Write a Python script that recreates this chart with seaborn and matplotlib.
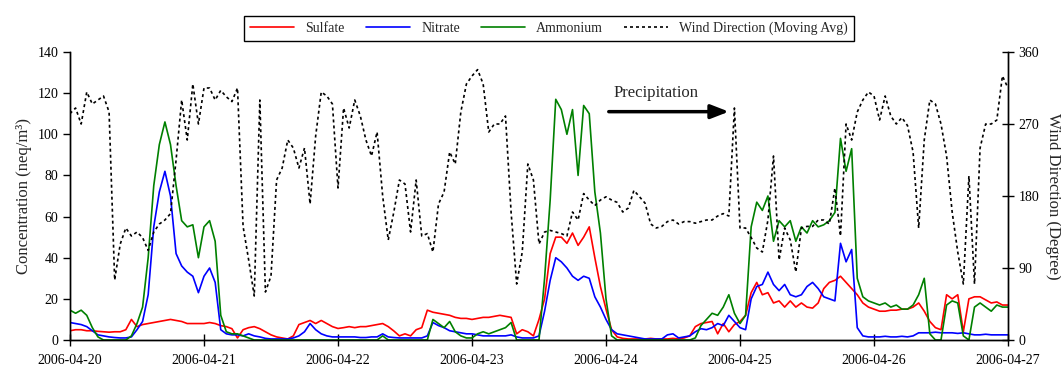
import pandas as pd
import seaborn as sns
import matplotlib.pyplot as plt
import matplotlib.dates as mdates

# hourly readings, 2006-04-20 00:00 -> 2006-04-27 00:00
times = pd.date_range("2006-04-20 00:00", "2006-04-27 00:00", freq="h")

# Sulfate (neq/m3)
sulfate = [4.5, 5, 5, 4.5, 4.5, 4.2, 4, 3.8, 4, 4, 5, 10, 6.5, 7.5, 8, 8.5, 9, 9.5, 10, 9.5, 9, 8, 8, 8,
           8, 8.5, 8, 7, 6.5, 5.5, 1, 5, 6, 6.5, 5.5, 4, 2.5, 1.5, 1, 0.5, 2, 7.5, 8.5, 9.5, 8, 9.5, 8, 6.5,
           5.6, 6, 6.5, 6, 6.5, 6.5, 7, 7.5, 8, 6.5, 4.4, 2, 3, 2, 5, 6, 14.5, 13.5, 13, 12.5, 12, 11, 10.5, 10.5,
           10, 10.5, 11, 11, 11.5, 12, 11.5, 11, 3, 5, 4, 2, 10, 20, 42, 50, 50, 47, 52, 46, 50, 55, 40, 26,
           15, 5, 1.5, 0.8, 0.5, 0.5, 0.5, 0.5, 0.8, 0.5, 0.5, 0.5, 0.8, 0.5, 1, 2, 6.5, 8, 8.5, 9, 3, 8, 4, 7.5,
           9, 12, 23, 28, 22, 23, 18, 19, 16, 19, 16, 18, 16, 15.5, 18, 25, 28, 29, 31, 28, 25, 22, 18, 16,
           15, 14, 14, 14.5, 14.5, 15, 15, 16, 18, 14, 9, 6, 5, 22, 20, 22, 4, 20, 21, 21, 19.5, 18, 18.5, 17,
           17]

# Nitrate (neq/m3)
nitrate = [8.5, 8, 7.5, 6.5, 4.5, 2.5, 2, 1.5, 1.2, 1, 1, 1.5, 5, 9, 22, 55, 72, 82, 70, 42, 36, 33, 31, 23,
           31, 35, 28, 5, 3, 2.5, 2.5, 2, 3, 2, 1.5, 0.8, 0.5, 0.5, 0.5, 0.5, 1, 2, 4, 8, 5, 3, 2, 1.5,
           1.5, 1.5, 1.5, 1.5, 1.2, 1.2, 1.5, 1.5, 3, 1.5, 1.2, 1, 1, 1, 1, 1, 2, 8.5, 7, 6, 4.5, 4, 3.5, 3,
           3, 2.5, 2, 2, 2, 2, 2, 2.5, 1.5, 1, 1, 1, 2, 14, 29, 40, 38, 35, 31, 29, 31, 30, 21, 16,
           10, 5, 3, 2.5, 2, 1.5, 1, 0.5, 0.5, 0.5, 0.5, 2.5, 3, 1, 1.5, 2, 4, 5.5, 5, 6, 8, 7, 12, 9,
           6, 5, 20, 26, 27, 33, 27, 24, 27, 22, 21, 22, 26, 28, 25, 21, 20, 19, 47, 38, 44, 6, 2, 1.5,
           1.5, 1.5, 1.8, 1.5, 1.5, 1.8, 1.5, 2, 3.5, 3.5, 3.5, 3.8, 3.5, 3.5, 3.5, 3.2, 3.5, 3, 2.5, 2.5, 2.8, 2.5, 2.5, 2.5,
           2.5]

# Ammonium (neq/m3)
ammonium = [14.5, 13, 14.5, 12, 6, 1.5, 0, 0, 0, 0, 0, 2, 8, 16, 40, 75, 95, 106, 95, 75, 58, 55, 56, 40,
            55, 58, 48, 12, 4, 3, 3, 2, 1, 0, 0, 0, 0, 0, 0, 0, 0, 0, 0, 0, 0, 0, 0, 0,
            0, 0, 0, 0, 0, 0, 0, 0, 2, 0, 0, 0, 0, 0, 0, 0, 0, 10, 8, 6, 9, 4, 2, 1,
            1, 3, 4, 3, 4, 5, 6, 8.5, 0, 0, 0, 0, 0, 30, 68, 117, 112, 100, 112, 80, 114, 110, 72, 52,
            20, 2, 0, 0, 0, 0, 0, 0, 0, 0, 0, 0, 0, 0, 0, 0, 1, 7, 10, 13, 12, 16, 22, 13,
            8, 12, 55, 67, 63, 70, 48, 58, 55, 58, 48, 55, 52, 58, 55, 56, 58, 62, 98, 82, 93, 30, 21, 19,
            18, 17, 18, 16, 17, 15, 15, 17, 22, 30, 3, 0, 0, 17, 19, 18, 2, 0, 16, 18, 16, 14, 17, 16,
            16]

# Wind direction, moving average (degree)
wind = [283, 290, 270, 310, 295, 300, 305, 285, 75, 120, 140, 130, 135, 128, 112, 135, 145, 150, 158, 225, 300, 250, 320, 270,
        315, 315, 300, 312, 304, 298, 315, 142, 100, 55, 300, 60, 80, 200, 215, 250, 240, 215, 240, 170, 255, 310, 305, 295,
        190, 290, 265, 300, 280, 250, 230, 260, 180, 125, 160, 200, 195, 135, 200, 130, 133, 110, 170, 185, 235, 220, 285, 320,
        330, 338, 320, 260, 270, 270, 280, 160, 70, 110, 220, 200, 120, 135, 137, 135, 133, 130, 160, 150, 183, 175, 168, 175,
        179, 175, 172, 160, 165, 187, 179, 171, 145, 140, 142, 148, 150, 145, 148, 148, 146, 148, 150, 150, 155, 158, 155, 290,
        140, 140, 128, 115, 110, 150, 230, 100, 140, 125, 85, 140, 142, 142, 150, 150, 145, 190, 130, 270, 250, 285, 300, 310,
        305, 275, 305, 280, 270, 278, 268, 235, 140, 250, 300, 295, 270, 230, 160, 110, 70, 205, 70, 240, 270, 270, 275, 330,
        315]

sns.set_theme(style="ticks")
plt.rcParams['font.family'] = ['Liberation Serif', 'DejaVu Serif']

fig = plt.figure(figsize=(10.61, 3.65), dpi=100)
ax = fig.add_axes([70 / 1061, 25 / 365, 938 / 1061, 288 / 365])
ax2 = ax.twinx()

sns.lineplot(x=times, y=sulfate, ax=ax, color="#ff0000", lw=1.2, label="Sulfate")
sns.lineplot(x=times, y=nitrate, ax=ax, color="#0000ff", lw=1.2, label="Nitrate")
sns.lineplot(x=times, y=ammonium, ax=ax, color="#008000", lw=1.2, label="Ammonium")
sns.lineplot(x=times, y=wind, ax=ax2, color="black", lw=1.2, linestyle=(0, (1.8, 1.8)),
             label="Wind Direction (Moving Avg)")

ax.set_xlim(times[0], times[-1])
ax.set_ylim(0, 140)
ax.set_yticks(range(0, 141, 20))
ax2.set_ylim(0, 360)
ax2.set_yticks(range(0, 361, 90))
ax.xaxis.set_major_locator(mdates.DayLocator())
ax.xaxis.set_major_formatter(mdates.DateFormatter("%Y-%m-%d"))

ax.set_ylabel("Concentration (neq/m³)", fontsize=12)
ax2.set_ylabel("Wind Direction (Degree)", fontsize=12, rotation=270, labelpad=16)
ax.set_xlabel("")

for a in (ax, ax2):
    a.spines['top'].set_visible(False)
    for s in a.spines.values():
        s.set_color("black")
        s.set_linewidth(1.0)
ax.tick_params(axis='y', direction='out', length=5, width=1, labelsize=10, colors='black')
ax.tick_params(axis='x', direction='inout', length=8, width=1, labelsize=10, colors='black', pad=6)
ax2.tick_params(axis='y', direction='inout', length=8, width=1, labelsize=10, colors='black')

# precipitation period
ax.annotate("", xy=(pd.Timestamp("2006-04-24 22:30"), 111), xytext=(pd.Timestamp("2006-04-24 00:00"), 111),
            arrowprops=dict(arrowstyle="-|>,head_length=0.9,head_width=0.35", lw=2.5, color="black"))
ax.text(pd.Timestamp("2006-04-24 09:00"), 120, "Precipitation", fontsize=12, ha="center", va="center")

handles = ax.get_legend().legend_handles + ax2.get_legend().legend_handles
labels = ["Sulfate", "Nitrate", "Ammonium", "Wind Direction (Moving Avg)"]
ax.get_legend().remove()
ax2.get_legend().remove()
leg = fig.legend(handles, labels, ncol=4, loc="upper center", bbox_to_anchor=(549 / 1061, 1 - 9 / 365),
                 frameon=True, fancybox=False, edgecolor="black", framealpha=1, fontsize=10,
                 handlelength=3.2, columnspacing=1.5, borderpad=0.4)
leg.get_frame().set_linewidth(1.0)

fig.savefig("out.png", dpi=100)
